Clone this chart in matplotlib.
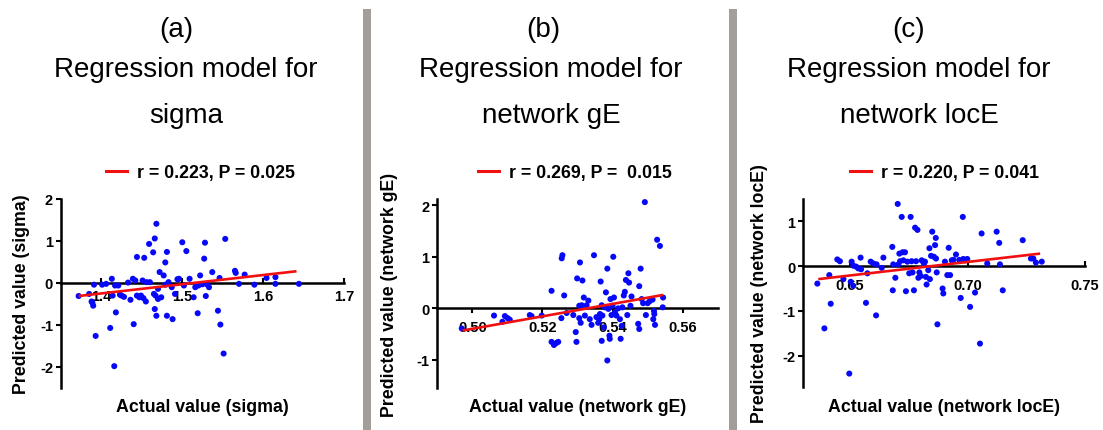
import matplotlib
matplotlib.use("Agg")
import matplotlib.pyplot as plt
from matplotlib.lines import Line2D
from matplotlib.patches import Rectangle

plt.rcParams["font.family"] = ["Liberation Sans", "DejaVu Sans"]
plt.rcParams["axes.unicode_minus"] = False

W, H = 1103, 431

# ---- data: sigma ----
sigma_actual = [1.372, 1.385, 1.388, 1.390, 1.389, 1.391, 1.393, 1.401, 1.406, 1.411,
                1.413, 1.414, 1.416, 1.417, 1.418, 1.421, 1.423, 1.425, 1.433, 1.439,
                1.440, 1.442, 1.444, 1.444, 1.447, 1.449, 1.451, 1.453, 1.455, 1.456,
                1.459, 1.460, 1.464, 1.465, 1.466, 1.467, 1.468, 1.466, 1.468, 1.470,
                1.472, 1.474, 1.477, 1.479, 1.479, 1.481, 1.481, 1.483, 1.487, 1.488,
                1.491, 1.494, 1.496, 1.500, 1.502, 1.505, 1.509, 1.514, 1.516, 1.519,
                1.520, 1.522, 1.525, 1.527, 1.528, 1.529, 1.531, 1.533, 1.537, 1.544,
                1.546, 1.547, 1.551, 1.553, 1.565, 1.566, 1.570, 1.577, 1.589, 1.604,
                1.615, 1.615, 1.644, 1.428, 1.436, 1.452, 1.470]
sigma_pred = [-0.31, -0.26, -0.44, -0.54, -0.47, -0.04, -1.26, -0.04, -0.02, -1.07,
              0.10, -0.30, -1.98, -0.06, -0.70, -0.06, -0.28, -0.30, 0.01, 0.10,
              -0.98, 0.06, 0.62, -0.30, -0.34, -0.30, 0.06, 0.60, -0.44, 0.02,
              0.93, 0.02, 0.73, -0.26, 1.06, -0.30, 1.41, -0.62, -0.78, -0.14,
              0.26, -0.34, 0.18, -0.04, 0.49, -0.78, 0.74, 0.02, -0.10, -0.86,
              -0.26, 0.09, 0.10, 0.97, -0.06, 0.76, 0.10, -0.34, -0.10, -0.72,
              -0.06, 0.18, -0.03, 0.58, 0.96, -0.31, -0.04, -0.10, 0.26, -0.66,
              0.12, -0.99, -1.68, 1.05, 0.29, 0.24, -0.02, 0.20, -0.04, 0.12,
              0.14, -0.02, -0.02, -0.33, -0.40, -0.36, -0.38]
sigma_fit_x = [1.372, 1.641]
sigma_fit_y = [-0.31, 0.28]

# ---- data: network gE ----
ge_actual = [0.4970, 0.5062, 0.5086, 0.5093, 0.5101, 0.5107, 0.5164, 0.5169, 0.5198, 0.5226,
             0.5226, 0.5233, 0.5240, 0.5245, 0.5255, 0.5257, 0.5254, 0.5262, 0.5269, 0.5288,
             0.5295, 0.5297, 0.5299, 0.5305, 0.5305, 0.5307, 0.5309, 0.5312, 0.5314, 0.5318,
             0.5321, 0.5326, 0.5331, 0.5335, 0.5340, 0.5347, 0.5354, 0.5359, 0.5362, 0.5364,
             0.5366, 0.5369, 0.5369, 0.5371, 0.5375, 0.5378, 0.5381, 0.5385, 0.5385, 0.5388,
             0.5391, 0.5392, 0.5394, 0.5397, 0.5400, 0.5402, 0.5404, 0.5407, 0.5411, 0.5416,
             0.5421, 0.5423, 0.5426, 0.5428, 0.5432, 0.5435, 0.5438, 0.5442, 0.5445, 0.5447,
             0.5451, 0.5454, 0.5473, 0.5476, 0.5476, 0.5480, 0.5483, 0.5487, 0.5492, 0.5495,
             0.5500, 0.5506, 0.5514, 0.5516, 0.5518, 0.5519, 0.5521, 0.5527, 0.5535, 0.5543,
             0.5544]
ge_pred = [-0.39, -0.14, -0.26, -0.15, -0.19, -0.22, -0.13, -0.15, -0.14, 0.34,
           -0.65, -0.71, -0.67, -0.65, 0.97, 1.03, -0.19, 0.25, -0.09, -0.13,
           -0.46, -0.65, 0.58, 0.05, -0.19, 0.89, -0.28, 0.06, 0.54, 0.21,
           -0.14, 0.06, 0.15, -0.21, -0.32, 1.03, -0.17, -0.28, -0.21, -0.11,
           0.52, 0.06, -0.63, -0.14, -0.37, 0.02, 0.31, 0.77, -1.01, -0.01,
           -0.53, -0.59, 0.18, -0.13, 0.05, 1.00, 0.21, -0.08, -0.14, 0.00,
           -0.21, -0.59, -0.34, 0.02, 0.25, 0.32, 0.55, -0.13, 0.68, 0.50,
           0.05, 0.23, -0.30, -0.40, 0.43, 0.77, 0.18, 0.10, 2.06, -0.13,
           0.10, 0.14, 0.17, -0.21, -0.05, -0.11, -0.32, 1.33, 1.21, 0.02,
           0.21]
ge_fit_x = [0.4972, 0.5544]
ge_fit_y = [-0.43, 0.26]

# ---- data: network locE ----
loce_actual = [0.6361, 0.6391, 0.6412, 0.6418, 0.6446, 0.6457, 0.6472, 0.6497, 0.6503, 0.6507,
               0.6514, 0.6514, 0.6526, 0.6535, 0.6545, 0.6547, 0.6568, 0.6574, 0.6588, 0.6599,
               0.6611, 0.6613, 0.6635, 0.6642, 0.6680, 0.6682, 0.6684, 0.6693, 0.6703, 0.6706,
               0.6710, 0.6713, 0.6720, 0.6724, 0.6727, 0.6734, 0.6738, 0.6744, 0.6752, 0.6758,
               0.6762, 0.6766, 0.6772, 0.6777, 0.6781, 0.6787, 0.6791, 0.6795, 0.6801, 0.6805,
               0.6809, 0.6815, 0.6819, 0.6823, 0.6826, 0.6833, 0.6838, 0.6840, 0.6845, 0.6850,
               0.6857, 0.6862, 0.6865, 0.6866, 0.6869, 0.6872, 0.6894, 0.6897, 0.6904, 0.6914,
               0.6920, 0.6926, 0.6933, 0.6940, 0.6951, 0.6965, 0.6971, 0.6980, 0.6982, 0.6989,
               0.6999, 0.7011, 0.7032, 0.7053, 0.7060, 0.7084, 0.7124, 0.7135, 0.7138, 0.7150,
               0.7235, 0.7270, 0.7280, 0.7291, 0.7316]
loce_pred = [-0.39, -1.39, -0.20, -0.84, 0.15, 0.11, -0.29, -2.40, -0.35, 0.10,
             -0.44, 0.01, -0.01, -0.05, 0.19, -0.07, -0.82, -0.16, 0.10, 0.06,
             -1.10, 0.04, -0.04, 0.19, 0.43, -0.54, 0.04, -0.26, 1.39, 0.04,
             0.28, 0.11, 1.10, 0.31, 0.13, 0.31, -0.56, 0.10, -0.16, 1.10,
             0.11, -0.14, -0.54, 0.86, 0.11, 0.81, -0.26, -0.14, -0.22, 0.13,
             0.11, 0.06, 0.10, -0.24, -0.41, -0.09, 0.40, -0.29, 0.23, 0.77,
             0.21, 0.47, 0.63, 0.17, -0.14, -1.30, -0.50, -0.61, 0.10, -0.20,
             0.41, -0.20, 0.13, 0.14, 0.26, 0.14, -0.71, 1.10, 0.16, 0.13,
             0.16, -0.91, -0.59, -1.73, 0.73, 0.06, 0.77, 0.52, 0.04, -0.54,
             0.58, 0.17, 0.17, 0.08, 0.10]
loce_fit_x = [0.6365, 0.7309]
loce_fit_y = [-0.29, 0.28]

panels = [
    dict(tag="(a)", name="sigma", stat="r = 0.223, P = 0.025",
         x=sigma_actual, y=sigma_pred, fx=sigma_fit_x, fy=sigma_fit_y,
         xlim=(1.35, 1.70), ylim=(-2.5, 2.0),
         xticks=[1.4, 1.5, 1.6, 1.7], xtl=["1.4", "1.5", "1.6", "1.7"],
         yticks=[-2, -1, 0, 1, 2],
         box=(60.8, 344.3, 200, 389), tickdir="in", xpad=4.0,
         title_cx=186, tag_cx=176, leg_x=106, ylab_x=22),
    dict(tag="(b)", name="network gE", stat="r = 0.269, P =  0.015",
         x=ge_actual, y=ge_pred, fx=ge_fit_x, fy=ge_fit_y,
         xlim=(0.49, 0.57), ylim=(-1.55, 2.12),
         xticks=[0.50, 0.52, 0.54, 0.56], xtl=["0.50", "0.52", "0.54", "0.56"],
         yticks=[-1, 0, 1, 2],
         box=(437.2, 717.8, 200, 389.3), tickdir="out", xpad=5.0,
         title_cx=551, tag_cx=543, leg_x=478, ylab_x=389),
    dict(tag="(c)", name="network locE", stat="r = 0.220, P = 0.041",
         x=loce_actual, y=loce_pred, fx=loce_fit_x, fy=loce_fit_y,
         xlim=(0.63, 0.75), ylim=(-2.7, 1.5),
         xticks=[0.65, 0.70, 0.75], xtl=["0.65", "0.70", "0.75"],
         yticks=[-2, -1, 0, 1],
         box=(803, 1085, 200, 388), tickdir="in", xpad=8.6,
         title_cx=919, tag_cx=909, leg_x=850, ylab_x=760),
]

fig = plt.figure(figsize=(W / 100, H / 100), dpi=100)
fig.patch.set_facecolor("white")

def fxp(px):
    return px / W

def fyp(py):
    return 1 - py / H

# grey dividers between panels
for x0 in (362.7, 729.0):
    fig.add_artist(Rectangle((fxp(x0), 0), 8 / W, fyp(10), transform=fig.transFigure,
                             facecolor="#a39e9a", edgecolor="none"))

for p in panels:
    l, r, t, b = p["box"]
    ax = fig.add_axes([fxp(l), fyp(b), (r - l) / W, (b - t) / H])
    ax.set_facecolor("none")
    ax.scatter(p["x"], p["y"], s=19, color="#0808f8", edgecolors="none", zorder=3)
    ax.plot(p["fx"], p["fy"], color="#f01010", lw=1.9, zorder=4, solid_capstyle="butt")
    ax.set_xlim(*p["xlim"])
    ax.set_ylim(*p["ylim"])
    for s in ("top", "right"):
        ax.spines[s].set_visible(False)
    ax.spines["bottom"].set_position(("data", 0))
    for s in ("left", "bottom"):
        ax.spines[s].set_linewidth(1.8)
        ax.spines[s].set_zorder(2.5)
    ax.set_xticks(p["xticks"])
    ax.set_xticklabels(p["xtl"])
    ax.set_yticks(p["yticks"])
    ax.set_yticklabels([str(v) for v in p["yticks"]])
    ax.tick_params(axis="x", direction=p["tickdir"], length=3.6, width=1.5,
                   pad=p["xpad"], labelsize=10.5)
    ax.tick_params(axis="y", direction="out", length=3.6, width=1.5, pad=2, labelsize=10.5)
    for lab in ax.get_xticklabels() + ax.get_yticklabels():
        lab.set_fontweight("bold")

    cx = (l + r) / 2
    fig.text(fxp(cx), fyp(412), f"Actual value ({p['name']})", ha="center", va="baseline",
             fontsize=12.8, fontweight="bold")
    fig.text(fxp(p["ylab_x"]), fyp((t + b) / 2), f"Predicted value ({p['name']})",
             rotation=90, ha="center", va="center", fontsize=12.8, fontweight="bold")

    fig.text(fxp(p["tag_cx"]), fyp(37), p["tag"], ha="center", va="baseline", fontsize=20)
    fig.text(fxp(p["title_cx"]), fyp(77), "Regression model for", ha="center",
             va="baseline", fontsize=20)
    fig.text(fxp(p["title_cx"]), fyp(123), p["name"], ha="center", va="baseline",
             fontsize=20)

    fig.add_artist(Line2D([fxp(p["leg_x"]), fxp(p["leg_x"] + 21)], [fyp(172), fyp(172)],
                          transform=fig.transFigure, color="#f01010", lw=2.2))
    fig.text(fxp(p["leg_x"] + 31), fyp(178), p["stat"], ha="left", va="baseline",
             fontsize=12.8, fontweight="bold")

fig.savefig("out.png", dpi=100, facecolor="white")
